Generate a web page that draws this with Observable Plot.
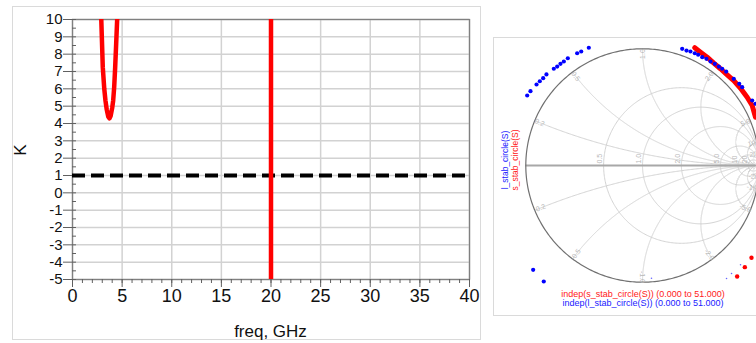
<!DOCTYPE html>
<html><head><meta charset="utf-8">
<script src="https://cdn.jsdelivr.net/npm/d3@7"></script>
<script src="https://cdn.jsdelivr.net/npm/@observablehq/plot@0.6"></script>
<style>
html,body{margin:0;padding:0;background:#fff;}
#root{position:relative;width:756px;height:343px;overflow:hidden;font-family:"Liberation Sans",Arial,sans-serif;}
.abs{position:absolute;white-space:nowrap;}
.frame{position:absolute;box-sizing:border-box;border:1px solid #dadada;}
</style></head><body><div id="root"></div>
<script>
// ---------- Left chart data (K vs freq) ----------
const kFreq  = [2.8, 2.9, 3.05, 3.2, 3.32, 3.45, 3.6, 3.73, 3.85, 4.0, 4.1, 4.2, 4.3, 4.4, 4.5, 4.56];
const kValue = [11.2, 10, 7.25, 6.0, 5.33, 4.8, 4.4, 4.3, 4.45, 4.9, 5.33, 6.1, 7.25, 8.6, 10, 10.9];
const poleFreq = [20, 20];
const poleK = [-6, 11];
const kLimit = [1];
const xTicks = [0, 5, 10, 15, 20, 25, 30, 35, 40];
const yTicks = [-5, -4, -3, -2, -1, 0, 1, 2, 3, 4, 5, 6, 7, 8, 9, 10];
const xMinorTicks = d3.range(0, 41, 1);
const yMinorTicks = d3.range(-5, 10.01, 0.5);

// ---------- Smith chart data (reflection coefficient, re / im) ----------
const sStabRe = [0.448, 0.497, 0.554, 0.611, 0.668, 0.726, 0.782, 0.840, 0.897, 0.940, 0.968];
const sStabIm = [1.009, 0.971, 0.928, 0.877, 0.829, 0.777, 0.728, 0.662, 0.585, 0.514, 0.414];
const sDotRe = [0.934, 0.877, 0.811];
const sDotIm = [-0.791, -0.871, -0.951];
const lStabRe = [-0.988, -0.960, -0.908, -0.880, -0.851, -0.823, -0.760, -0.731, -0.703, -0.674, -0.640, -0.560, -0.525, -0.460,
                 0.340, 0.377, 0.411, 0.448, 0.477, 0.512, 0.548, 0.583, 0.620, 0.654, 0.683, 0.717, 0.782, 0.829, 0.854, 0.940, 0.968,
                 -0.937, -0.846];
const lStabIm = [0.600, 0.637, 0.694, 0.722, 0.748, 0.780, 0.829, 0.848, 0.871, 0.891, 0.919, 0.962, 0.977, 1.009,
                 1.000, 0.985, 0.977, 0.962, 0.949, 0.928, 0.914, 0.891, 0.871, 0.848, 0.829, 0.805, 0.743, 0.700, 0.671, 0.557, 0.529,
                 -0.894, -0.994];
const faintRe = [0.077, 0.840, 0.763, 0.720];
const faintIm = [-0.966, -0.850, -0.925, -0.968];
const rCircles = [0.5, 1, 2, 5, 10, 20];
const xArcs = [0.2, 0.5, 1, 2, 5, 10, 20, -0.2, -0.5, -1, -2, -5, -10, -20];

const FONT = "Liberation Sans, Arial, sans-serif";
const root = document.getElementById("root");

// ---------- Left chart ----------
const curve = kFreq.map((f, i) => ({f, k: kValue[i]}));
const pole = poleFreq.map((f, i) => ({f, k: poleK[i]}));
const leftPlot = Plot.plot({
  width: 480, height: 343,
  marginLeft: 72, marginRight: 11, marginTop: 19, marginBottom: 64,
  style: {fontFamily: FONT, background: "transparent", color: "#111"},
  x: {domain: [0, 40], label: null},
  y: {domain: [-5, 10], label: null},
  marks: [
    Plot.gridX(xTicks, {stroke: "#d2d2d2", strokeOpacity: 1, strokeWidth: 1.5}),
    Plot.gridY(yTicks, {stroke: "#d2d2d2", strokeOpacity: 1, strokeWidth: 1.5}),
    Plot.frame({stroke: "#808080", strokeWidth: 1.3}),
    Plot.axisX(xMinorTicks, {tickSize: 4, tickFormat: () => "", stroke: "#606060", label: null}),
    Plot.axisX(xTicks, {tickSize: 8, tickPadding: 2, fontSize: 18, stroke: "#606060", tickFormat: d => String(d), label: null}),
    Plot.axisY(yTicks, {tickSize: 9, tickPadding: 1, fontSize: 15, stroke: "#606060", tickFormat: d => String(d), label: null}),
    Plot.ruleY(yMinorTicks, {y: d => d, x1: 0, x2: 0.4, stroke: "#606060"}),
    Plot.ruleY(kLimit, {stroke: "#000", strokeWidth: 4, strokeDasharray: "13,6"}),
    Plot.line(curve, {x: "f", y: "k", stroke: "#ff0000", strokeWidth: 4.5, clip: true}),
    Plot.line(pole, {x: "f", y: "k", stroke: "#ff0000", strokeWidth: 4.5, clip: true})
  ]
});

// ---------- Smith chart grid ----------
const grid = [];
rCircles.forEach(r => {
  const cx = r / (1 + r), rad = 1 / (1 + r);
  for (let k = 0; k <= 360; k++) {
    const t = k * Math.PI / 180;
    grid.push({g: "r" + r, x: cx + rad * Math.cos(t), y: rad * Math.sin(t)});
  }
});
xArcs.forEach(xv => {
  const cy = 1 / xv, rad = Math.abs(1 / xv);
  const start = xv > 0 ? -Math.PI / 2 : Math.PI / 2, dir = xv > 0 ? -1 : 1;
  for (let k = 0; k <= 1440; k++) {
    const t = start + dir * k * Math.PI / 1440;
    const px = 1 + rad * Math.cos(t), py = cy + rad * Math.sin(t);
    if (px * px + py * py > 1.00001) break;
    grid.push({g: "x" + xv, x: px, y: py});
  }
  grid.push({g: "x" + xv, x: (xv * xv - 1) / (xv * xv + 1), y: 2 * xv / (xv * xv + 1)});
});
const outer = d3.range(0, 361).map(k => ({x: Math.cos(k * Math.PI / 180), y: Math.sin(k * Math.PI / 180)}));
const fmt = v => (Math.abs(v) < 10 ? v.toFixed(1) : String(v));
const rLab = rCircles.map(r => ({x: (r - 1) / (r + 1), y: 0, t: fmt(r)}));
const xLab = xArcs.map(xv => {
  const px = (xv * xv - 1) / (xv * xv + 1), py = 2 * xv / (xv * xv + 1);
  let a = -Math.atan2(py, px) * 180 / Math.PI;
  if (a > 90) a -= 180;
  if (a < -90) a += 180;
  return {x: px * 0.955, y: py * 0.955, t: fmt(xv), rot: a};
});
const sLine = sStabRe.map((x, i) => ({x, y: sStabIm[i]}));
const sDots = sDotRe.map((x, i) => ({x, y: sDotIm[i]}));
const lDots = lStabRe.map((x, i) => ({x, y: lStabIm[i]}));
const faint = faintRe.map((x, i) => ({x, y: faintIm[i]}));

const rightPlot = Plot.plot({
  width: 300, height: 343, margin: 0,
  style: {fontFamily: FONT, background: "transparent", overflow: "visible"},
  x: {domain: [-1, 1], range: [45.3, 278.7], axis: null},
  y: {domain: [-1, 1], range: [281.7, 48.3], axis: null},
  marks: [
    Plot.line(grid, {x: "x", y: "y", z: "g", stroke: "#d4d4d4", strokeWidth: 1}),
    Plot.ruleY([0], {x1: -1, x2: 1, stroke: "#a8a8a8", strokeWidth: 2}),
    Plot.line(outer, {x: "x", y: "y", stroke: "#707070", strokeWidth: 1.2}),
    Plot.text(rLab, {x: "x", y: "y", text: "t", rotate: -90, textAnchor: "start", dx: -3.5, dy: -2, fontSize: 7, fill: "#b8b8b8"}),
    Plot.text(xLab, {x: "x", y: "y", text: "t", rotate: "rot", fontSize: 7, fill: "#b8b8b8"}),
    Plot.line(sLine, {x: "x", y: "y", stroke: "#ff0000", strokeWidth: 5, strokeLinecap: "round"}),
    Plot.dot(sDots, {x: "x", y: "y", r: 2.2, fill: "#ff0000"}),
    Plot.dot(lDots, {x: "x", y: "y", r: 2.1, fill: "#0000ff"}),
    Plot.dot(faint, {x: "x", y: "y", r: 0.8, fill: "#6666ff"})
  ]
});

// ---------- Assemble ----------
function div(cls, css, text) {
  const d = document.createElement("div");
  d.className = cls;
  Object.assign(d.style, css);
  if (text != null) d.textContent = text;
  root.appendChild(d);
  return d;
}
div("frame", {left: "12px", top: "6px", width: "469px", height: "334px"});
div("frame", {left: "493px", top: "37px", width: "320px", height: "279px"});
leftPlot.style.position = "absolute"; leftPlot.style.left = "0px"; leftPlot.style.top = "0px";
rightPlot.style.position = "absolute"; rightPlot.style.left = "480px"; rightPlot.style.top = "0px";
root.appendChild(leftPlot);
root.appendChild(rightPlot);
div("abs", {left: "270.5px", top: "322px", transform: "translateX(-50%)", fontSize: "17px", color: "#111"}, "freq, GHz");
div("abs", {left: "21px", top: "150px", transform: "translate(-50%,-50%) rotate(-90deg)", fontSize: "17px", color: "#111"}, "K");
div("abs", {left: "505px", top: "160px", transform: "translate(-50%,-50%) rotate(-90deg)", fontSize: "8.5px", color: "#2020ff"}, "l_stab_circle(S)");
div("abs", {left: "515px", top: "160px", transform: "translate(-50%,-50%) rotate(-90deg)", fontSize: "8.5px", color: "#ff2020"}, "s_stab_circle(S)");
div("abs", {left: "643px", top: "289px", transform: "translateX(-50%)", fontSize: "9px", color: "#ff2020"}, "indep(s_stab_circle(S)) (0.000 to 51.000)");
div("abs", {left: "643px", top: "298px", transform: "translateX(-50%)", fontSize: "9px", color: "#2020ff"}, "indep(l_stab_circle(S)) (0.000 to 51.000)");
</script></body></html>
